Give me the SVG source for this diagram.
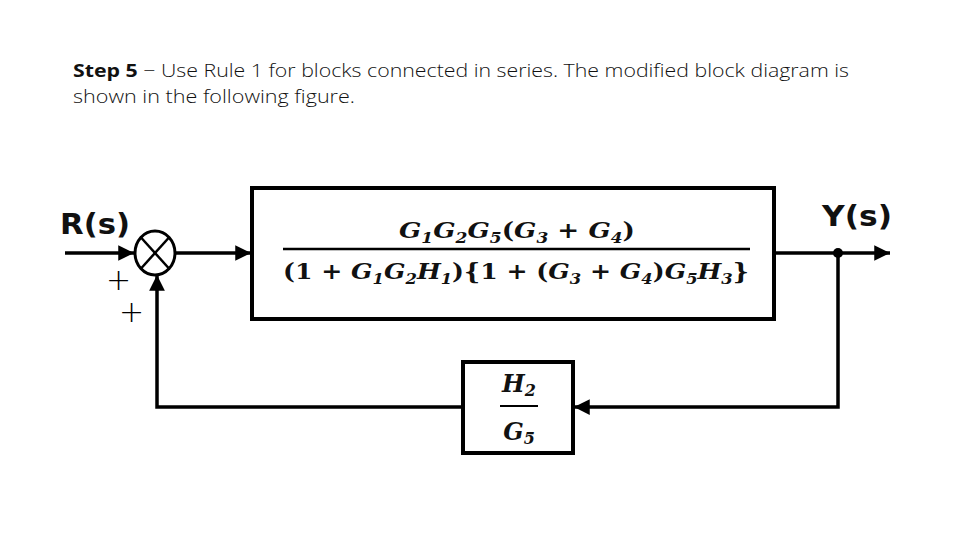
<svg xmlns="http://www.w3.org/2000/svg" width="960" height="540" viewBox="0 0 960 540">
<defs>
<marker id="arr" viewBox="0 0 10 10" refX="10" refY="5" markerWidth="5" markerHeight="4.5" orient="auto" markerUnits="strokeWidth">
<path d="M0,0 L10,5 L0,10 z" fill="#000"/>
</marker>
<style>
.ln{stroke:#000;stroke-width:3.5;fill:none}
.blk{stroke:#000;stroke-width:4;fill:#fff}
.m{font-family:"DejaVu Serif","Liberation Serif",serif;font-weight:bold;font-style:italic;fill:#111}
.up{font-style:normal}
.lbl{font-family:"DejaVu Sans","Liberation Sans",sans-serif;font-weight:bold;font-size:29px;fill:#111}
.cap{font-family:"Open Sans","Liberation Sans",sans-serif;font-size:18px;fill:#111;font-weight:300}
.pm{font-family:"DejaVu Sans",sans-serif;font-size:30px;fill:#000;font-weight:300}
</style>
</defs>
<rect width="960" height="540" fill="#fff"/>
<text class="cap" x="73" y="77" textLength="776" lengthAdjust="spacingAndGlyphs"><tspan font-weight="bold">Step 5</tspan> − Use Rule 1 for blocks connected in series. The modified block diagram is</text>
<text class="cap" x="73" y="103" textLength="282" lengthAdjust="spacingAndGlyphs">shown in the following figure.</text>
<g id="connectors">
<line class="ln" x1="65" y1="253" x2="134" y2="253" marker-end="url(#arr)"/>
<line class="ln" x1="176" y1="253" x2="251" y2="253" marker-end="url(#arr)"/>
<line class="ln" x1="775" y1="253" x2="890" y2="253" marker-end="url(#arr)"/>
<polyline class="ln" points="838,253 838,407 574,407" marker-end="url(#arr)"/>
<polyline class="ln" points="463,407 157,407 157,275" marker-end="url(#arr)"/>
<circle cx="838" cy="253" r="5" fill="#000"/>
</g>
<g id="sum">
<ellipse cx="155" cy="253" rx="20" ry="22" fill="#fff" stroke="#000" stroke-width="3"/>
<line x1="141" y1="237.5" x2="169" y2="268.5" stroke="#000" stroke-width="2.5"/>
<line x1="169" y1="237.5" x2="141" y2="268.5" stroke="#000" stroke-width="2.5"/>
</g>
<g id="labels">
<text class="lbl" x="60" y="234" textLength="70" lengthAdjust="spacingAndGlyphs">R(s)</text>
<text class="lbl" x="822" y="226" textLength="70" lengthAdjust="spacingAndGlyphs">Y(s)</text>
<text class="pm" x="106" y="290">+</text>
<text class="pm" x="119" y="322">+</text>
</g>
<g id="forward">
<rect class="blk" x="252" y="188" width="522" height="131"/>
<text class="m" x="517" y="238" font-size="23" text-anchor="middle" textLength="236" lengthAdjust="spacingAndGlyphs">G<tspan font-size="15" dy="5">1</tspan><tspan dy="-5">G</tspan><tspan font-size="15" dy="5">2</tspan><tspan dy="-5">G</tspan><tspan font-size="15" dy="5">5</tspan><tspan dy="-5" class="up">(</tspan>G<tspan font-size="15" dy="5">3</tspan><tspan dy="-5" class="up"> + </tspan>G<tspan font-size="15" dy="5">4</tspan><tspan dy="-5" class="up">)</tspan></text>
<line x1="283" y1="249" x2="750" y2="249" stroke="#000" stroke-width="2.5"/>
<text class="m" x="516" y="279" font-size="23" text-anchor="middle" textLength="466" lengthAdjust="spacingAndGlyphs"><tspan class="up">(1 + </tspan>G<tspan font-size="15" dy="5">1</tspan><tspan dy="-5">G</tspan><tspan font-size="15" dy="5">2</tspan><tspan dy="-5">H</tspan><tspan font-size="15" dy="5">1</tspan><tspan dy="-5" class="up">){1 + (</tspan>G<tspan font-size="15" dy="5">3</tspan><tspan dy="-5" class="up"> + </tspan>G<tspan font-size="15" dy="5">4</tspan><tspan dy="-5" class="up">)</tspan>G<tspan font-size="15" dy="5">5</tspan><tspan dy="-5">H</tspan><tspan font-size="15" dy="5">3</tspan><tspan dy="-5" class="up">}</tspan></text>
</g>
<g id="feedback">
<rect class="blk" x="463" y="362" width="110" height="91"/>
<text class="m" x="519" y="392" font-size="24" text-anchor="middle">H<tspan font-size="16" dy="4">2</tspan></text>
<line x1="500" y1="406" x2="538" y2="406" stroke="#000" stroke-width="2"/>
<text class="m" x="519" y="440" font-size="24" text-anchor="middle">G<tspan font-size="16" dy="4">5</tspan></text>
</g>
</svg>
